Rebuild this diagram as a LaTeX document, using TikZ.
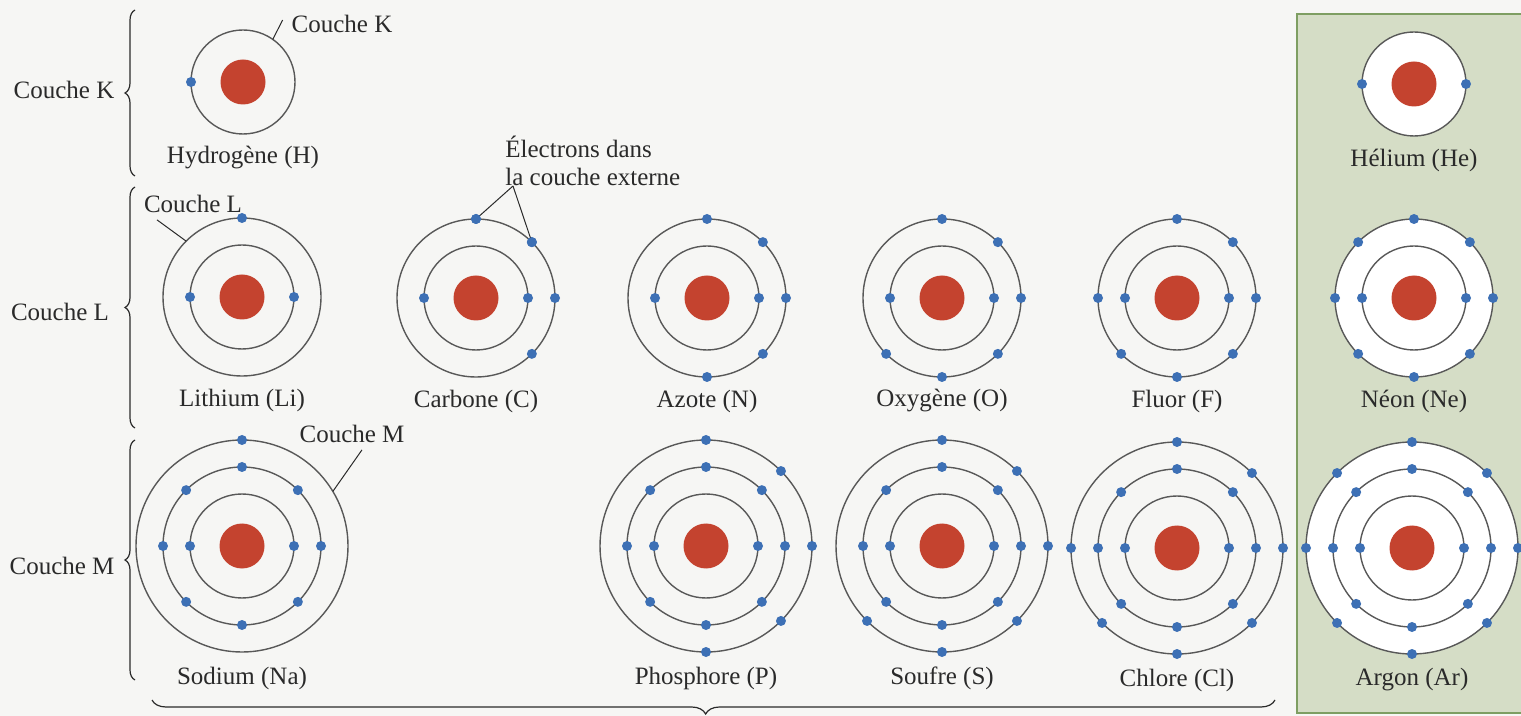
\documentclass[tikz,border=0pt]{standalone}
\usepackage{fontspec}
\setmainfont{Liberation Serif}
\usetikzlibrary{calc,decorations.pathreplacing}

\definecolor{paper}{HTML}{F6F6F4}
\definecolor{panel}{HTML}{D5DDC6}
\definecolor{paneledge}{HTML}{7E9E62}
\definecolor{orbit}{HTML}{585858}
\definecolor{nucl}{HTML}{C4432F}
\definecolor{elec}{HTML}{3D70B5}
\definecolor{ink}{HTML}{2A2A2A}

\tikzset{
  nucleus/.style={circle, fill=nucl, minimum size=22.5pt, inner sep=0pt},
  orbitline/.style={draw=orbit, line width=0.7pt},
  electron/.style={fill=elec},
  elname/.style={text=ink, font=\fontsize{12.5}{14}\selectfont},
  shelltag/.style={text=ink, font=\fontsize{12.5}{14}\selectfont},
  leader/.style={draw=ink, line width=0.5pt},
  shellbrace/.style={draw=ink, line width=0.6pt, decorate,
    decoration={brace, amplitude=5pt}},
}

% concentric orbits around a nucleus
\newcommand\atomorbits[2]{\foreach \r in {#2} \draw[orbitline] (#1.center) circle[radius=\r];}
% electrons placed on one shell at the given angles
\newcommand\shellelectrons[3]{\foreach \a in {#3} \fill[electron] ($(#1.center)+(\a:#2)$) circle[radius=5];}

\begin{document}
\begin{tikzpicture}[x=0.5pt,y=0.5pt]
  \fill[paper] (0,0) rectangle (1521,-716);
  \useasboundingbox (0,0) rectangle (1521,-716);

  % noble gas column
  \draw[paneledge, line width=1.2pt, fill=panel] (1297,-14) rectangle (1530,-713);

  % nuclei
  \node[nucleus] (H)  at (243,-82)  {};
  \node[nucleus] (He) at (1414,-84) {};
  \node[nucleus] (Li) at (242,-297) {};
  \node[nucleus] (C)  at (476,-298) {};
  \node[nucleus] (N)  at (707,-298) {};
  \node[nucleus] (O)  at (942,-298) {};
  \node[nucleus] (F)  at (1177,-298) {};
  \node[nucleus] (Ne) at (1414,-298) {};
  \node[nucleus] (Na) at (242,-546) {};
  \node[nucleus] (P)  at (706,-546) {};
  \node[nucleus] (S)  at (942,-546) {};
  \node[nucleus] (Cl) at (1177,-548) {};
  \node[nucleus] (Ar) at (1412,-548) {};

  % white discs behind the noble gas orbits
  \fill[white] (He.center) circle[radius=52];
  \fill[white] (Ne.center) circle[radius=79];
  \fill[white] (Ar.center) circle[radius=106];
  \node[nucleus] at (He.center) {};
  \node[nucleus] at (Ne.center) {};
  \node[nucleus] at (Ar.center) {};

  % orbits
  \atomorbits{H}{52}
  \atomorbits{He}{52}
  \foreach \e in {Li,C,N,O,F,Ne} {\atomorbits{\e}{52,79}}
  \foreach \e in {Na,P,S,Cl,Ar} {\atomorbits{\e}{52,79,106}}

  % electrons, shell K
  \shellelectrons{H}{52}{180}
  \foreach \e in {He,Li,C,N,O,F,Ne,Na,P,S,Cl,Ar} {\shellelectrons{\e}{52}{180,0}}
  % shell L
  \shellelectrons{Li}{79}{90}
  \shellelectrons{C}{79}{90,45,0,-45}
  \shellelectrons{N}{79}{90,45,0,-45,-90}
  \shellelectrons{O}{79}{90,45,0,-45,-90,-135}
  \shellelectrons{F}{79}{90,45,0,-45,-90,-135,180}
  \foreach \e in {Ne,Na,P,S,Cl,Ar} {\shellelectrons{\e}{79}{0,45,...,315}}
  % shell M
  \shellelectrons{Na}{106}{90}
  \shellelectrons{P}{106}{90,45,0,-45,-90}
  \shellelectrons{S}{106}{90,45,0,-45,-90,-135}
  \shellelectrons{Cl}{106}{90,45,0,-45,-90,-135,180}
  \shellelectrons{Ar}{106}{0,45,...,315}

  % element names
  \node[elname] (nH)  at ($(H)+(0,-76)$)  {Hydrogène (H)};
  \node[elname] (nHe) at ($(He)+(0,-76)$) {Hélium (He)};
  \foreach \e/\t in {Li/Lithium (Li), C/Carbone (C), N/Azote (N), O/Oxygène (O), F/Fluor (F), Ne/Néon (Ne)}
    {\node[elname] (n\e) at ($(\e)+(0,-103)$) {\t};}
  \foreach \e/\t in {Na/Sodium (Na), P/Phosphore (P), S/Soufre (S), Cl/Chlore (Cl), Ar/Argon (Ar)}
    {\node[elname] (n\e) at ($(\e)+(0,-132)$) {\t};}

  % shell names on the left with their braces
  \node[shelltag] (tagK) at (64,-90)  {Couche K};
  \node[shelltag] (tagL) at (60,-312) {Couche L};
  \node[shelltag] (tagM) at (62,-566) {Couche M};
  \coordinate (bK1) at (135,-176); \coordinate (bK2) at (135,-10);
  \coordinate (bL1) at (135,-428); \coordinate (bL2) at (135,-187);
  \coordinate (bM1) at (135,-680); \coordinate (bM2) at (135,-440);
  \draw[shellbrace] (bK1) -- (bK2);
  \draw[shellbrace] (bL1) -- (bL2);
  \draw[shellbrace] (bM1) -- (bM2);

  % bottom brace under the third period
  \coordinate (bB1) at (1275,-700); \coordinate (bB2) at (152,-700);
  \draw[draw=ink, line width=0.6pt, decorate,
        decoration={brace, amplitude=7pt, aspect=0.507}] (bB1) -- (bB2);

  % shell names pointing at an orbit
  \node[shelltag] (lblK) at (342,-24) {Couche K};
  \draw[leader] ($(lblK.west)+(-2,4)$) -- ($(H.center)+(55:52)$);
  \node[shelltag] (lblL) at (193,-204) {Couche L};
  \draw[leader] ($(lblL.south west)+(20,0)$) -- ($(Li.center)+(135:79)$);
  \node[shelltag] (lblM) at (352,-434) {Couche M};
  \draw[leader] ($(lblM.south)+(10,0)$) -- ($(Na.center)+(31:106)$);

  % outer shell electrons callout
  \node[shelltag, align=left, anchor=north west, inner sep=0pt] (lblOut) at (505,-136)
    {Électrons dans\\la couche externe};
  \coordinate (apex) at (513,-186);
  \draw[leader] (apex) -- ($(C.center)+(90:79)$);
  \draw[leader] (apex) -- ($(C.center)+(45:79)$);
  \shellelectrons{C}{79}{90,45}
\end{tikzpicture}
\end{document}
